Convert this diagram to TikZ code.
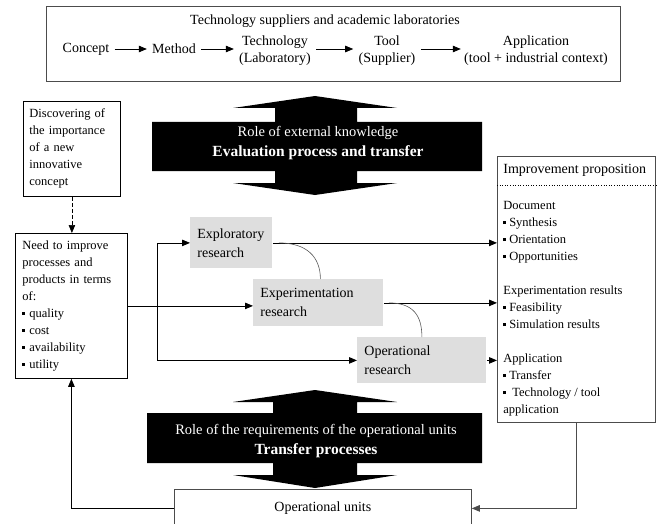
\documentclass[tikz,border=0pt]{standalone}
\usepackage{fontspec}
\setmainfont{Liberation Serif}
\usetikzlibrary{arrows.meta,positioning}

\colorlet{framegray}{black!70}
\colorlet{researchfill}{black!13}

\tikzset{
  flow/.style={-{Triangle[length=8pt,width=6.5pt]}},
  toptxt/.style={font=\fontsize{14}{17}\selectfont, inner sep=0pt, align=center},
  bodytxt/.style={font=\fontsize{12.5}{17}\selectfont, inner sep=0pt},
  box/.style={draw, bodytxt, align=left, inner xsep=6pt, inner ysep=0pt},
  research/.style={fill=researchfill, bodytxt, align=left, anchor=north west,
    inner xsep=7pt, inner ysep=0pt, font=\fontsize{14}{19}\selectfont},
  arrowtxt/.style={text=white, font=\fontsize{14.5}{20}\selectfont, align=center, inner sep=0pt},
  link/.style={draw=black!65, line width=0.6pt},
}
\newcommand{\itm}{\rule[0.22em]{0.22em}{0.22em}\ }

\begin{document}
\begin{tikzpicture}[x=1pt,y=-1pt,line width=0.8pt]
  \useasboundingbox (0,0) rectangle (658,524);

  % Suppliers and laboratories
  \draw[framegray] (46,6) rectangle (620,81);
  \node[toptxt] (suppliers) at (325,21) {Technology suppliers and academic laboratories};
  \node[toptxt] (concept) at (86,49) {Concept};
  \node[toptxt] (method) at (174,49) {Method};
  \node[toptxt] (techno) at (275,51) {Technology\\(Laboratory)};
  \node[toptxt] (tool) at (387,51) {Tool\\(Supplier)};
  \node[toptxt] (appli) at (536,51) {Application\\(tool + industrial context)};
  \draw[flow, shorten <=5pt, shorten >=5pt] (concept.east) -- (concept.east -| method.west);
  \draw[flow, shorten <=5pt, shorten >=5pt] (method.east) -- (method.east -| techno.west);
  \draw[flow, shorten <=5pt, shorten >=5pt] (method.east -| techno.east) -- (method.east -| tool.west);
  \draw[flow, shorten <=5pt, shorten >=3pt] (method.east -| tool.east) -- (method.east -| appli.west);

  % External knowledge
  \fill[black] (315,96) -- (397,108) -- (357,108) -- (357,122) -- (482,122) -- (482,171)
    -- (357,171) -- (357,183) -- (397,183) -- (315,195) -- (233,183) -- (275,183)
    -- (275,171) -- (152,171) -- (152,122) -- (275,122) -- (275,108) -- (233,108) -- cycle;
  \node[arrowtxt] (extrole) at (318,143)
    {Role of external knowledge\\\textbf{\fontsize{15.5}{20}\selectfont Evaluation process and transfer}};

  % Requirements of the operational units
  \fill[black] (315,390) -- (397,402) -- (357,402) -- (357,413) -- (482,413) -- (482,463)
    -- (357,463) -- (357,475) -- (397,475) -- (315,488) -- (233,475) -- (273,475)
    -- (273,463) -- (147,463) -- (147,413) -- (273,413) -- (273,402) -- (233,402) -- cycle;
  \node[arrowtxt] (reqrole) at (316,441)
    {Role of the requirements of the operational units\\\textbf{\fontsize{15.5}{20}\selectfont Transfer processes}};

  % Left boxes
  \node[box, text width=85pt, minimum height=95pt, anchor=north west] (discover) at (23,101)
    {Discovering of\\the importance\\of a new\\innovative\\concept};
  \node[box, text width=98pt, inner xsep=7pt, minimum height=145pt, anchor=north west] (need) at (15,233)
    {Need to improve\\processes and\\products in terms\\of:\\\itm quality\\\itm cost\\\itm availability\\\itm utility};
  \draw[flow, dash pattern=on 4pt off 2pt, line width=0.6pt] (discover.south) -- (discover.south |- need.north);

  % Research boxes
  \node[research, minimum width=82pt, minimum height=51pt, text width=68pt] (explo) at (190,217)
    {Exploratory\\research};
  \node[research, minimum width=130pt, minimum height=47pt, text width=116pt] (experi) at (253,279)
    {Experimentation\\research};
  \node[research, minimum width=129pt, minimum height=46pt, text width=115pt] (opera) at (357,337)
    {Operational\\research};

  % Improvement proposition
  \node[box, draw=framegray, minimum width=158pt, minimum height=266pt, anchor=north west] (improve) at (497,156) {};
  \node[bodytxt, font=\fontsize{14}{17}\selectfont, anchor=west] (improvehead) at (503,170) {Improvement proposition};
  \coordinate (sepleft) at (497,185);
  \draw[dotted, line width=0.6pt] (sepleft) -- (sepleft -| improve.east);
  \node[bodytxt, align=left, anchor=west] (improvebody) at (503,309)
    {Document\\\itm Synthesis\\\itm Orientation\\\itm Opportunities\\[17pt]
     Experimentation results\\\itm Feasibility\\\itm Simulation results\\[17pt]
     Application\\\itm Transfer\\\itm\ Technology / tool\\application};

  % Operational units
  \node[box, draw=framegray, minimum width=297pt, minimum height=38pt, anchor=north west,
    font=\fontsize{14}{17}\selectfont] (opunits) at (174,489) {Operational units};

  % Connectors
  \coordinate (split) at (157,0 |- need.east);
  \draw[flow] (need.east) -- (need.east -| experi.west);
  \draw[flow] (split) |- (explo.west);
  \draw[flow] (split) |- (opera.west);
  \draw[flow] (explo.east) -- (explo.east -| improve.west);
  \draw[flow] (experi.east) -- (experi.east -| improve.west);
  \draw[flow] (opera.east) -- (opera.east -| improve.west);
  \coordinate (exploend) at ([xshift=6pt]explo.east);
  \coordinate (experiend) at ([xshift=5pt]experi.east);
  \draw[link] (exploend) .. controls +(28,0) and +(0,-22) .. ([xshift=2pt]experi.north);
  \draw[link] (experiend) .. controls +(24,0) and +(0,-22) .. (opera.north);
  \draw[flow, draw=framegray] (improve.south) |- (opunits.east);
  \draw[flow] (opunits.west) -| (need.south);

\end{tikzpicture}
\end{document}
